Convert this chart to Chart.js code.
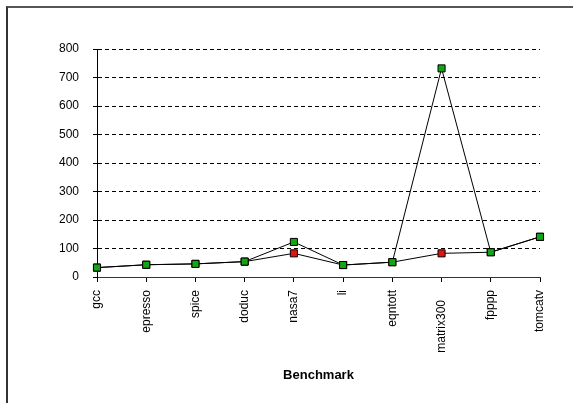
<!DOCTYPE html>
<html>
<head>
<meta charset="utf-8">
<script src="https://cdn.jsdelivr.net/npm/chart.js@4"></script>
<style>
  body { margin: 0; background: #fff; }
  #frame { position: absolute; left: 6px; top: 6px; width: 620px; height: 396px;
           border-top: 2px solid #555; border-left: 2px solid #333; }
  #myChart { position: absolute; left: 0; top: 0; }
</style>
</head>
<body>
<div id="frame"></div>
<canvas id="myChart" width="573" height="403"></canvas>
<script>
const benchmarks = ['gcc', 'epresso', 'spice', 'doduc', 'nasa7', 'li', 'eqntott', 'matrix300   ', 'fpppp', 'tomcatv'];
const greenSeries = [33, 43, 46, 54, 123, 42, 52, 732, 87, 141];
const redSeries = [33, 43, 46, 54, 83, 42, 52, 83, 87, 141];
const yTicks = [0, 100, 200, 300, 400, 500, 600, 700, 800];

const ctx = document.getElementById('myChart');
new Chart(ctx, {
  type: 'line',
  data: {
    labels: benchmarks,
    datasets: [{
      data: greenSeries,
      borderColor: '#000',
      borderWidth: 1,
      pointStyle: 'rect',
      pointRadius: 5,
      pointBackgroundColor: '#14a514',
      pointBorderColor: '#000',
      pointBorderWidth: 1
    }, {
      data: redSeries,
      borderColor: '#000',
      borderWidth: 1,
      pointStyle: 'rect',
      pointRadius: 5,
      pointBackgroundColor: '#e01414',
      pointBorderColor: '#000',
      pointBorderWidth: 1
    }]
  },
  options: {
    responsive: false,
    animation: false,
    layout: { padding: { top: 49, right: 33, bottom: 16, left: 0 } },
    plugins: { legend: { display: false }, tooltip: { enabled: false } },
    scales: {
      x: {
        offset: false,
        grid: { drawOnChartArea: false, drawTicks: true, tickLength: 5, tickColor: '#000' },
        border: { display: true, color: '#333', width: 1 },
        ticks: {
          color: '#000', maxRotation: 90, minRotation: 90, padding: 8,
          font: { family: 'Liberation Sans', size: 12 }
        },
        title: {
          display: true, text: 'Benchmark', color: '#000',
          font: { family: 'Liberation Sans', size: 13, weight: 'bold' }
        },
        afterFit: function(scale) { scale.height = 110; }
      },
      y: {
        min: 0,
        max: 800,
        afterBuildTicks: function(scale) { scale.ticks = yTicks.map(v => ({ value: v })); },
        grid: {
          color: c => c.tick && c.tick.value === 0 ? 'rgba(0,0,0,0)' : '#000',
          tickColor: '#000', tickLength: 4, lineWidth: 1
        },
        border: { display: true, color: '#000', width: 1, dash: [4, 3] },
        ticks: {
          color: '#000', padding: 14,
          font: { family: 'Liberation Sans', size: 12 }
        },
        afterFit: function(scale) { scale.width = 97; }
      }
    }
  }
});
</script>
</body>
</html>
